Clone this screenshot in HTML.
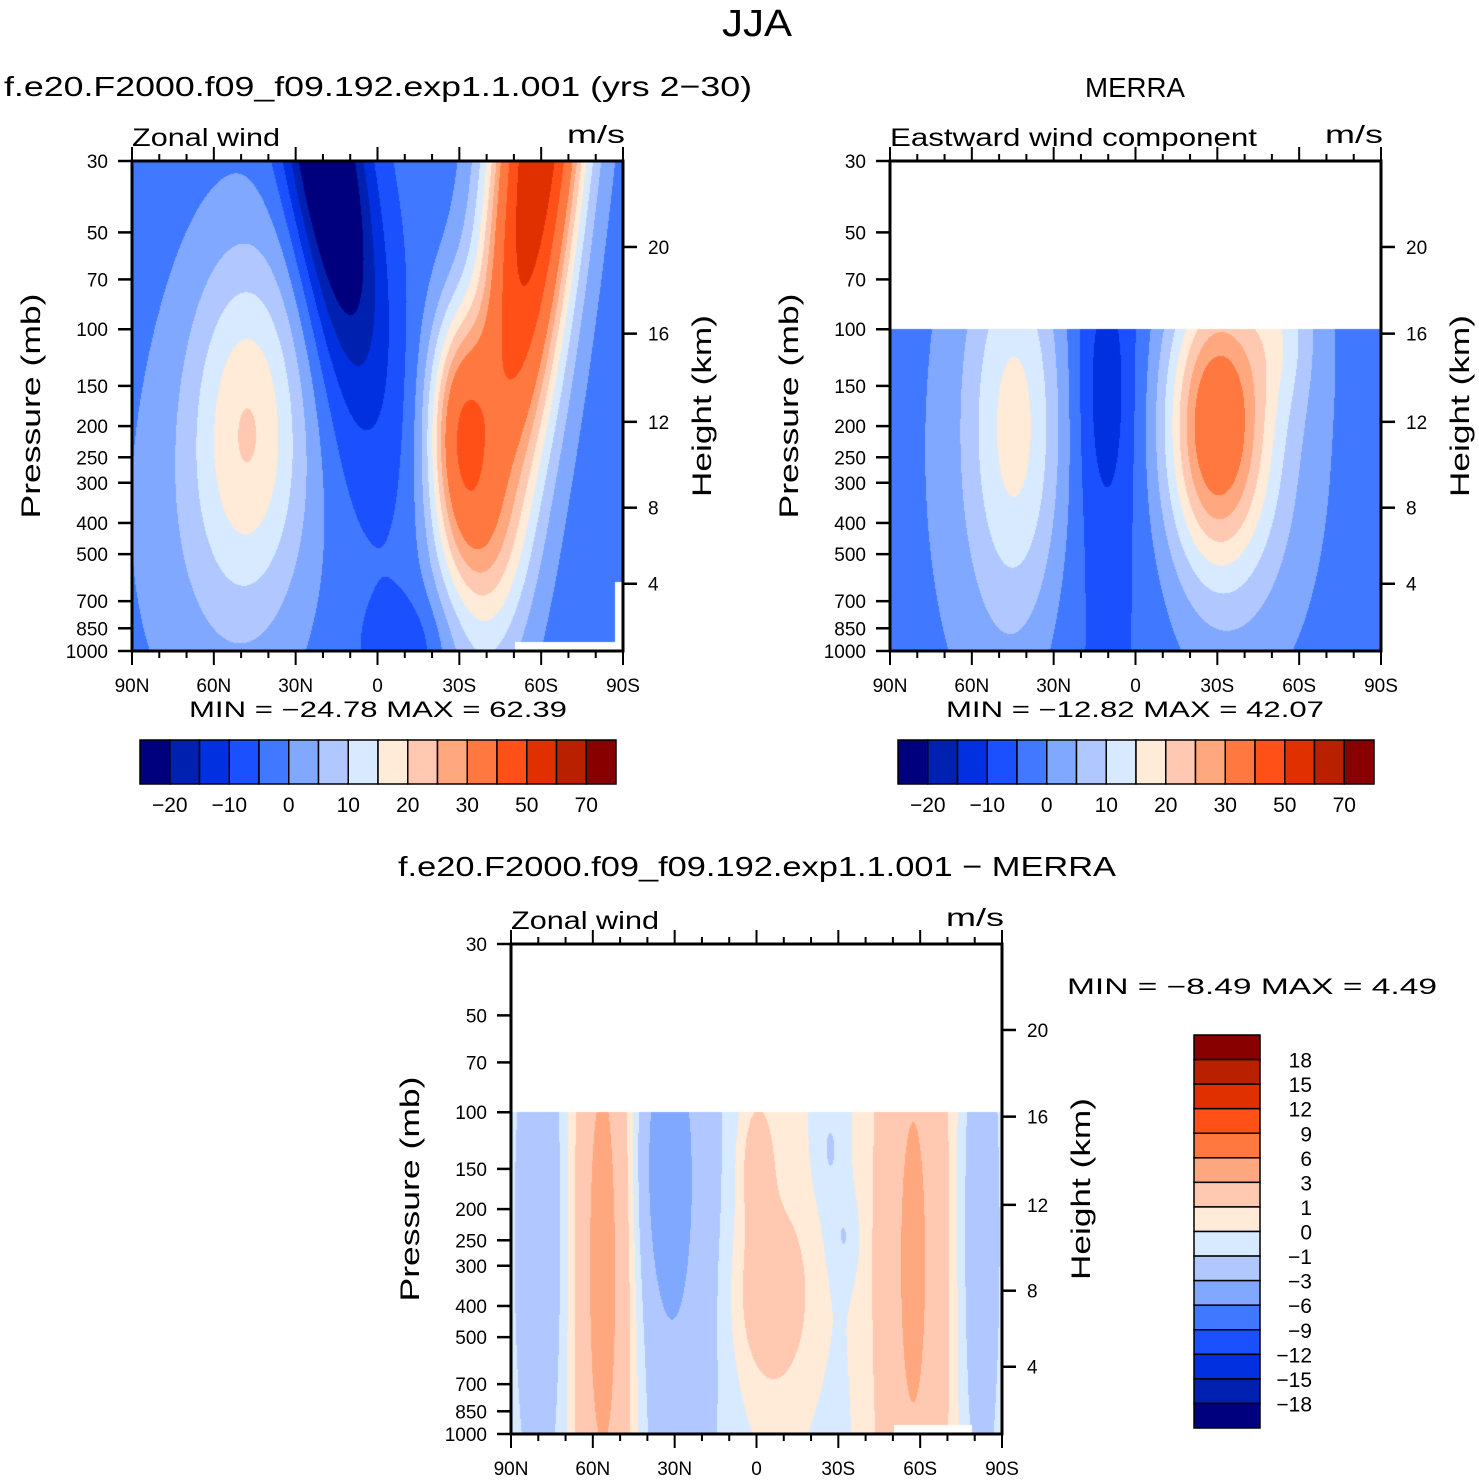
<!DOCTYPE html>
<html><head><meta charset="utf-8"><style>
body{margin:0;background:#fff;width:1479px;height:1480px;position:relative;overflow:hidden;font-family:"Liberation Sans",sans-serif}
canvas{position:absolute}
svg{position:absolute;left:0;top:0}
</style></head><body>
<canvas id="c1" width="491" height="490" style="left:132px;top:161px"></canvas>
<canvas id="c2" width="491" height="490" style="left:890px;top:161px"></canvas>
<canvas id="c3" width="491" height="490" style="left:511px;top:944px"></canvas>
<svg id="ov" width="1479" height="1480"></svg>
<script>
const colors=["#00007f","#0020b0","#0030e0","#1a50ff","#4078ff","#80a8ff","#b0c8ff","#d8eaff","#ffebd8","#ffc8b0","#ffa880","#ff7840","#ff5018","#e03000","#b82000","#880000"];
const levelsAbs=[-20,-15,-10,-5,0,5,10,15,20,25,30,40,50,60,70];
const levelsDiff=[-18,-15,-12,-9,-6,-3,-1,0,1,3,6,9,12,15,18];
const absLabels=["−20","−10","0","10","20","30","50","70"];
const diffLabels=["18","15","12","9","6","3","1","0","−1","−3","−6","−9","−12","−15","−18"];
const pressureTicks=[30,50,70,100,150,200,250,300,400,500,700,850,1000];
const latTicks=["90N","60N","30N","0","30S","60S","90S"];
const heightLabels=["20","16","12","8","4"];
const heightPressures=[55.5,103.2,194,358.6,618];
// field components: [lat position 0..1, logp position 0..1, sx, sy, amplitude, tilt]
const modelBase=-3;
const modelBumps=[[0.24,0.54,0.085,0.26,20,0],[0.15,0.75,0.14,0.35,5,0],[0.385,-0.05,0.055,0.27,-25,0.15],[0.44,0.3,0.07,0.3,-8,0.1],[0.555,1.0,0.06,0.08,-6,0],[0.835,-0.1,0.065,0.6,63,-0.1],[0.665,0.55,0.045,0.17,33,0],[0.7,0.78,0.06,0.12,8,0]];
const merraBase=-2.5;
const merraBumps=[[0.26,0.54,0.075,0.3,19,0],[0.15,0.65,0.15,0.5,2,0],[0.44,0.47,0.04,0.2,-7,0],[0.42,0.6,0.09,0.6,-5,0],[0.66,0.54,0.07,0.2,30,0],[0.72,0.55,0.1,0.3,12,0],[0.8,0.33,0.05,0.12,8,0]];
const diffBase=-0.5;
const diffBumps=[[0.07,0.6,0.04,0.4,-1.8,0],[0.19,0.65,0.05,0.6,4.5,0],[0.33,0.55,0.07,0.5,-2.5,0],[0.31,0.45,0.035,0.18,-2,0],[0.53,0.72,0.05,0.12,2.3,0],[0.5,0.45,0.025,0.1,1.8,0],[0.54,0.6,0.09,0.5,0.8,0],[0.65,0.42,0.02,0.08,-1,0],[0.68,0.6,0.02,0.06,-1,0],[0.82,0.65,0.06,0.7,3.8,0],[0.95,0.6,0.03,0.4,-1.8,0]];

const LN=Math.log(1000/30);
function yOfP(p){return Math.log(p/30)/LN;}
function field(b,base,s,y){let v=base;for(const g of b){const sc=g[0]+g[5]*(y-g[1]);const dx=(s-sc)/g[2],dy=(y-g[1])/g[3];v+=g[4]*Math.exp(-(dx*dx+dy*dy)/2);}return v;}
function hex(c){return [parseInt(c.substr(1,2),16),parseInt(c.substr(3,2),16),parseInt(c.substr(5,2),16)];}
const rgb=colors.map(hex);
function draw(id,bumps,base,levels,ymin,mask){
  const cv=document.getElementById(id),ctx=cv.getContext('2d'),W=cv.width,H=cv.height;
  const im=ctx.createImageData(W,H);
  for(let j=0;j<H;j++)for(let i=0;i<W;i++){
    const s=i/(W-1),y=j/(H-1);const o=(j*W+i)*4;
    let r=255,g=255,bl=255;
    if(!(y<ymin||(mask&&mask(s,y)))){
      const v=field(bumps,base,s,y);let c=0;while(c<levels.length&&v>=levels[c])c++;
      r=rgb[c][0];g=rgb[c][1];bl=rgb[c][2];
    }
    im.data[o]=r;im.data[o+1]=g;im.data[o+2]=bl;im.data[o+3]=255;
  }
  ctx.putImageData(im,0,0);
}
draw('c1',modelBumps,modelBase,levelsAbs,-1,function(s,y){return (y>0.982&&s>0.78)||(s>0.985&&y>0.86);});
draw('c2',merraBumps,merraBase,levelsAbs,yOfP(100),null);
draw('c3',diffBumps,diffBase,levelsDiff,yOfP(100),function(s,y){return y>0.982&&s>0.78&&s<0.94;});

const NS='http://www.w3.org/2000/svg';const ov=document.getElementById('ov');
function el(tag,attrs,name,txt){const e=document.createElementNS(NS,tag);for(const k in attrs)e.setAttribute(k,attrs[k]);


if(txt!==undefined)e.textContent=txt;ov.appendChild(e);return e;}
function text(x,y,t,size,anchor,name,len){const a={x:x,y:y,'font-size':size,'text-anchor':anchor||'middle',fill:'#000','font-family':'Liberation Sans, sans-serif'};if(len){a.textLength=len;a.lengthAdjust='spacingAndGlyphs';}return el('text',a,name,t);}
function line(x1,y1,x2,y2,w,name){return el('line',{x1:x1,y1:y1,x2:x2,y2:y2,stroke:'#000','stroke-width':w},name);}

text(757,36,'JJA',38,'middle','main-title',70);
function panel(ox,oy,left,leftLen){
  const L=ox,T=oy,W=491,H=490;
  el('rect',{x:L,y:T,width:W,height:H,fill:'none',stroke:'#000','stroke-width':3},'plot-frame');
  pressureTicks.forEach(function(p){const y=T+H*yOfP(p);line(L-14,y,L,y,2.5,'pressure-tick');text(L-24,y+7,String(p),19,'end','pressure-tick-label');});
  for(let d=0;d<=180;d+=10){const x=L+W*d/180;const maj=d%30===0;line(x,T,x,T-(maj?14:7),2,'lat-tick-top');line(x,T+H,x,T+H+(maj?14:7),2,'lat-tick-bottom');}
  latTicks.forEach(function(t,i){text(L+W*i/6,T+H+41,t,19,'middle','lat-tick-label');});
  heightPressures.forEach(function(p,i){const y=T+H*yOfP(p);line(L+W,y,L+W+14,y,2.5,'height-tick');text(L+W+25,y+7,heightLabels[i],19,'start','height-tick-label');});
  text(L-92,T+245,'Pressure (mb)',27,'middle','pressure-axis-title',225).setAttribute('transform','rotate(-90 '+(L-92)+' '+(T+245)+')');
  text(L+W+88,T+245,'Height (km)',27,'middle','height-axis-title',182).setAttribute('transform','rotate(-90 '+(L+W+88)+' '+(T+245)+')');
  text(L,T-15,left,25,'start','variable-name',leftLen);
  text(L+W+2,T-18,'m/s',25,'end','units-label',58);
}
panel(132,161,'Zonal wind',148);
panel(890,161,'Eastward wind component',367);
panel(511,944,'Zonal wind',148);
text(378,96,'f.e20.F2000.f09_f09.192.exp1.1.001 (yrs 2−30)',28,'middle','model-title',748);
text(1135,97,'MERRA',28,'middle','merra-title',100);
text(757,876,'f.e20.F2000.f09_f09.192.exp1.1.001 − MERRA',28,'middle','difference-title',718);
text(378,717,'MIN = −24.78   MAX =   62.39',22,'middle','model-min-max',378);
text(1135,717,'MIN = −12.82   MAX =   42.07',22,'middle','merra-min-max',378);
text(1252,994,'MIN =   −8.49   MAX =    4.49',22,'middle','difference-min-max',370);
function hbar(x0,y0,name){const w=476/16;colors.forEach(function(c,i){el('rect',{x:x0+i*w,y:y0,width:w,height:44,fill:c,stroke:'#000','stroke-width':1.5},name+'-box');});
absLabels.forEach(function(t,i){text(x0+w*(2*i+1),y0+72,t,21,'middle',name+'-label');});}
hbar(140,740,'model-colorbar');hbar(898,740,'merra-colorbar');
const vh=393/16;colors.slice().reverse().forEach(function(c,i){el('rect',{x:1194,y:1035+i*vh,width:66,height:vh,fill:c,stroke:'#000','stroke-width':1.5},'difference-colorbar-box');});
diffLabels.forEach(function(t,i){text(1312,1035+vh*(i+1)+8,t,21,'end','difference-colorbar-label');});
</script>
</body></html>
